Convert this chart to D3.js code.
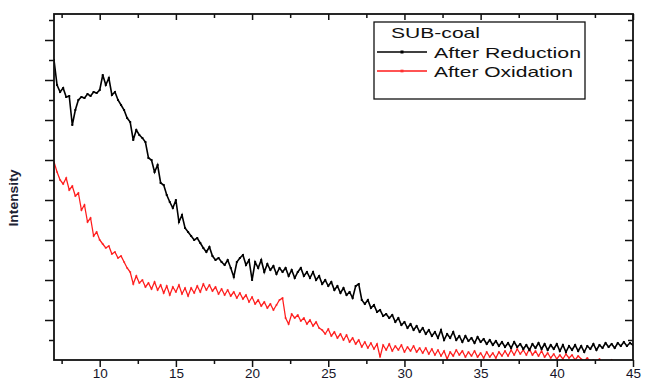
<!DOCTYPE html>
<html>
<head>
<meta charset="utf-8">
<script src="https://cdn.jsdelivr.net/npm/d3@7"></script>
<style>
  html, body { margin: 0; padding: 0; background: #fff; }
  svg { display: block; }
</style>
</head>
<body>
<svg id="chart" width="647" height="381"></svg>
<script>
// 2-theta grid (degrees), step 0.2 from 7 to 45
const twoTheta = d3.range(0, 191).map(i => +(7 + i * 0.2).toFixed(1));

// Intensity (a.u.) — SUB-coal after reduction
const afterReduction = [
  1500,1375,1340,1360,1315,1320,1175,1250,1300,1315,
  1310,1330,1320,1340,1335,1350,1425,1375,1410,1325,
  1340,1300,1275,1250,1210,1190,1100,1150,1125,1110,
  1090,1010,1000,940,975,885,875,825,790,760,
  800,690,725,660,640,620,600,610,585,560,
  540,565,520,500,510,490,475,500,460,415,
  490,510,525,475,500,400,490,460,500,440,
  480,450,470,430,460,440,460,420,450,410,
  440,460,420,440,410,440,400,420,380,400,
  370,390,350,370,335,360,325,340,310,370,
  380,300,280,300,260,275,240,250,220,230,
  210,225,190,210,175,190,160,180,150,170,
  140,160,130,150,120,140,110,150,100,130,
  110,140,100,120,90,120,95,110,85,115,
  90,105,80,100,75,95,70,90,65,85,
  60,90,65,80,55,75,50,80,60,85,
  55,80,50,75,55,80,45,75,40,70,
  50,75,45,70,40,70,55,80,50,75,
  60,85,65,80,60,85,70,90,70,85,
  75
];

// Intensity (a.u.) — SUB-coal after oxidation
const afterOxidation = [
  990,940,900,880,910,850,870,820,835,750,
  775,690,710,620,640,600,580,560,570,530,
  540,510,520,490,460,440,380,420,385,400,
  365,385,355,390,350,375,335,370,325,365,
  340,375,330,360,320,360,335,370,340,380,
  350,375,345,365,330,355,325,350,320,340,
  310,335,305,325,290,315,280,300,270,290,
  260,280,250,275,300,310,210,180,230,210,
  225,195,210,180,200,170,190,160,150,130,
  155,120,140,110,130,100,125,90,110,80,
  100,65,90,60,85,55,80,15,75,50,
  80,45,70,50,75,40,65,45,70,40,
  60,35,60,30,55,25,50,20,45,5,
  40,20,50,25,45,15,40,20,45,15,
  35,10,40,15,35,10,40,20,45,20,
  50,25,55,30,50,25,55,25,45,20,
  45,15,35,10,30,5,25,5,30,10,
  25,0,20,5,-5,10,-10,0,-15,5,
  -20,-5,-25,0,-30,-5,-40,-20,-45,-30,
  -50
];

const xTicksMajor = [10, 15, 20, 25, 30, 35, 40, 45];
const xTicksMinor = [7.5, 12.5, 17.5, 22.5, 27.5, 32.5, 37.5, 42.5];
const yTicksMajor = [200, 400, 600, 800, 1000, 1200, 1400, 1600];
const yTicksMinor = [100, 300, 500, 700, 900, 1100, 1300, 1500, 1700];

const legendTitle = "SUB-coal";
const seriesNames = ["After Reduction", "After Oxidation"];
const seriesColors = ["#000000", "#ff1a1a"];

const svg = d3.select("#chart");
const frame = { left: 54, right: 633, top: 14, bottom: 360 };

const x = d3.scaleLinear().domain([7, 45]).range([frame.left, frame.right]);
const y = d3.scaleLinear().domain([0, 1730]).range([frame.bottom, frame.top]);

// soft rendering of the traces
const defs = svg.append("defs");
defs.append("filter").attr("id", "soft")
  .attr("x", "-5%").attr("y", "-5%").attr("width", "110%").attr("height", "110%")
  .append("feGaussianBlur").attr("stdDeviation", 0.5);
defs.append("clipPath").attr("id", "plotClip")
  .append("rect")
  .attr("x", frame.left).attr("y", frame.top)
  .attr("width", frame.right - frame.left)
  .attr("height", frame.bottom - frame.top);

// traces
const line = d3.line().x((d, i) => x(twoTheta[i])).y(d => y(d));
const traces = svg.append("g").attr("clip-path", "url(#plotClip)")
  .attr("filter", "url(#soft)");

[afterOxidation, afterReduction].forEach((vals, k) => {
  const color = k === 0 ? seriesColors[1] : seriesColors[0];
  traces.append("path")
    .datum(vals)
    .attr("d", line)
    .attr("fill", "none")
    .attr("stroke", color)
    .attr("stroke-width", k === 0 ? 1.25 : 1.6)
    .attr("stroke-linejoin", "miter");
  traces.append("g").selectAll("rect")
    .data(vals)
    .join("rect")
    .attr("x", (d, i) => x(twoTheta[i]) - 1)
    .attr("y", d => y(d) - 1)
    .attr("width", 2).attr("height", 2)
    .attr("fill", color)
    .attr("opacity", k === 0 ? 0.5 : 0.95);
});

// axes
const axisG = svg.append("g").attr("font-family", "Liberation Sans, Arial, sans-serif");

const bottomMajor = d3.axisBottom(x).tickValues(xTicksMajor).tickSize(7).tickSizeOuter(0);
const bottomMinor = d3.axisBottom(x).tickValues(xTicksMinor).tickSize(4).tickSizeOuter(0).tickFormat("");
const topMajor = d3.axisBottom(x).tickValues(xTicksMajor).tickSize(6).tickSizeOuter(0).tickFormat("");
const topMinor = d3.axisBottom(x).tickValues(xTicksMinor).tickSize(4).tickSizeOuter(0).tickFormat("");
const leftMajor = d3.axisLeft(y).tickValues(yTicksMajor).tickSize(9).tickSizeOuter(0).tickFormat("");
const leftMinor = d3.axisLeft(y).tickValues(yTicksMinor).tickSize(5).tickSizeOuter(0).tickFormat("");
const rightMajor = d3.axisLeft(y).tickValues(yTicksMajor).tickSize(8).tickSizeOuter(0).tickFormat("");
const rightMinor = d3.axisLeft(y).tickValues(yTicksMinor).tickSize(5).tickSizeOuter(0).tickFormat("");

function styleAxis(g) {
  g.selectAll(".domain").remove();
  g.selectAll(".tick line").attr("stroke", "#111").attr("stroke-width", 1.5);
}

const gb = axisG.append("g").attr("transform", `translate(0,${frame.bottom})`).call(bottomMajor).call(styleAxis);
// tick labels sit tight against the bottom edge of the canvas
gb.selectAll(".tick text")
  .attr("y", 17.5)
  .attr("dy", null)
  .attr("font-size", 13.5)
  .attr("fill", "#141428")
  .attr("font-family", "Liberation Sans, Arial, sans-serif");
axisG.append("g").attr("transform", `translate(0,${frame.bottom})`).call(bottomMinor).call(styleAxis);
axisG.append("g").attr("transform", `translate(0,${frame.top})`).call(topMajor).call(styleAxis);
axisG.append("g").attr("transform", `translate(0,${frame.top})`).call(topMinor).call(styleAxis);
axisG.append("g").attr("transform", `translate(${frame.left},0)`).call(leftMajor).call(styleAxis);
axisG.append("g").attr("transform", `translate(${frame.left},0)`).call(leftMinor).call(styleAxis);
// right-side ticks point inward
axisG.append("g").attr("transform", `translate(${frame.right},0)`).call(rightMajor).call(styleAxis);
axisG.append("g").attr("transform", `translate(${frame.right},0)`).call(rightMinor).call(styleAxis);

// frame
axisG.append("rect")
  .attr("x", frame.left).attr("y", frame.top)
  .attr("width", frame.right - frame.left)
  .attr("height", frame.bottom - frame.top)
  .attr("fill", "none")
  .attr("stroke", "#111")
  .attr("stroke-width", 1.8);

// y-axis title
svg.append("text")
  .attr("transform", "translate(18,198) rotate(-90)")
  .attr("text-anchor", "middle")
  .attr("font-family", "Liberation Sans Narrow, Liberation Sans, Arial, sans-serif")
  .attr("font-size", 12)
  .attr("font-weight", "bold")
  .attr("fill", "#1c2233")
  .attr("textLength", 57)
  .attr("lengthAdjust", "spacingAndGlyphs")
  .text("Intensity");

// legend
const legend = svg.append("g").attr("font-family", "Liberation Sans, Arial, sans-serif");
legend.append("rect")
  .attr("x", 374).attr("y", 22).attr("width", 211).attr("height", 77)
  .attr("fill", "#fff").attr("stroke", "#111").attr("stroke-width", 1.3);
legend.append("text")
  .attr("x", 391).attr("y", 38)
  .attr("font-size", 15).attr("fill", "#111")
  .attr("textLength", 89).attr("lengthAdjust", "spacingAndGlyphs")
  .text(legendTitle);

const legendRows = [
  { name: seriesNames[0], color: seriesColors[0], y: 52, len: 147 },
  { name: seriesNames[1], color: seriesColors[1], y: 71, len: 139 }
];
legendRows.forEach(r => {
  legend.append("line")
    .attr("x1", 377).attr("x2", 427).attr("y1", r.y).attr("y2", r.y)
    .attr("stroke", r.color).attr("stroke-width", 1.3);
  legend.append("rect")
    .attr("x", 400.5).attr("y", r.y - 1.5).attr("width", 3).attr("height", 3)
    .attr("fill", r.color).attr("opacity", r.color === "#000000" ? 1 : 0.6);
  legend.append("text")
    .attr("x", 434).attr("y", r.y + 6)
    .attr("font-size", 15).attr("fill", "#111")
    .attr("textLength", r.len).attr("lengthAdjust", "spacingAndGlyphs")
    .text(r.name);
});
</script>
</body>
</html>
